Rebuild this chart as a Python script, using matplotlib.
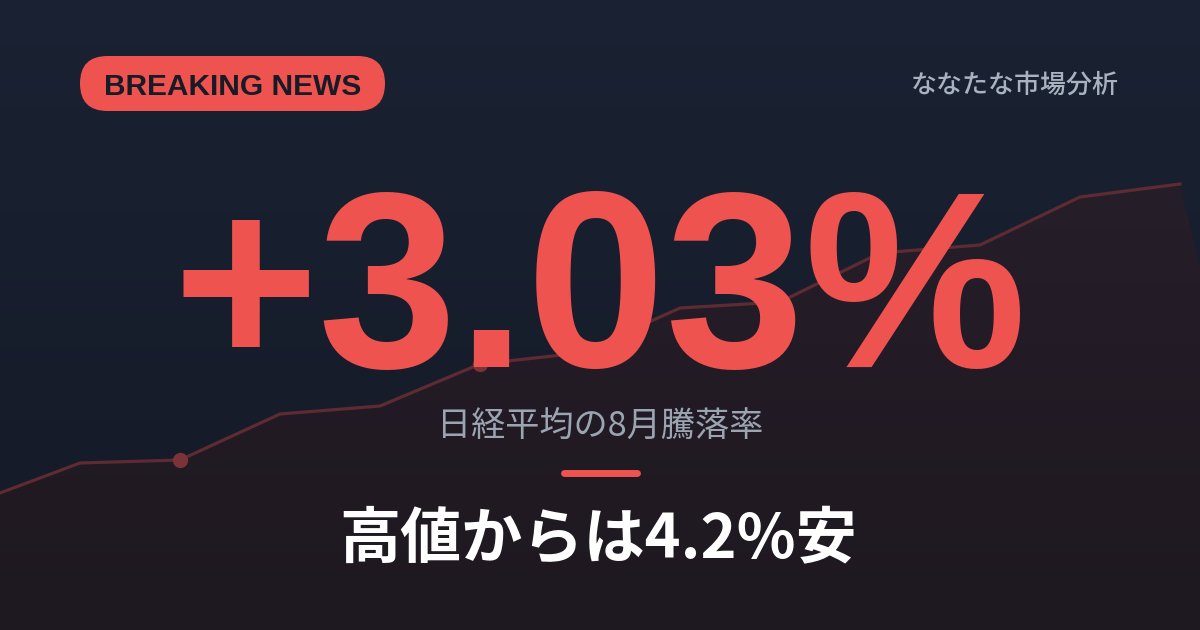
import numpy as np
import matplotlib.pyplot as plt
from matplotlib.patches import FancyBboxPatch, Polygon
from matplotlib.colors import LinearSegmentedColormap

# index path behind the headline (x position, height above bottom edge)
ar_x = [0, 80, 180, 280, 380, 480, 580, 680, 780, 880, 980, 1080, 1180]
ar_level = [137, 167, 170, 216, 224, 266, 277, 322, 328, 377, 385, 433, 446]
ar_marker_idx = [2, 5]

st_badge = 'BREAKING NEWS'
st_brand = 'ななたな市場分析'
st_headline = '+3.03%'
st_subtitle = '日経平均の8月騰落率'
st_bottom = '高値からは4.2%安'

ls_cjk = ['Noto Sans CJK JP', 'DejaVu Sans']
st_red = '#ef5350'

fig = plt.figure(figsize=(12, 6.3), dpi=100)

# Background gradient
ax_bg = fig.add_axes([0, 0, 1, 1])
ax_bg.set_xlim(0, 1200)
ax_bg.set_ylim(0, 630)
ax_bg.axis('off')
cmap_bg = LinearSegmentedColormap.from_list('bg', ['#141925', '#1a2233'])
ar_grad = np.linspace(0, 1, 256).reshape(-1, 1)
ax_bg.imshow(ar_grad, cmap=cmap_bg, aspect='auto', extent=[0, 1200, 0, 630],
             origin='lower', zorder=0)

# Area under the index path, gradient clipped to polygon
ar_poly = [(0, 0)] + list(zip(ar_x, ar_level)) + [(ar_x[-1] + ar_level[-1] / 4.15, 0)]
poly = Polygon(ar_poly, closed=True, facecolor='none', edgecolor='none')
ax_bg.add_patch(poly)
cmap_fill = LinearSegmentedColormap.from_list('fill', ['#1e1820', '#261e29'])
im_fill = ax_bg.imshow(ar_grad, cmap=cmap_fill, aspect='auto',
                       extent=[0, 1200, 0, 460], origin='lower', zorder=1)
im_fill.set_clip_path(poly)
ax_bg.set_xlim(0, 1200)
ax_bg.set_ylim(0, 630)

ax_bg.plot(ar_x, ar_level, color='#5e2b32', linewidth=2.3, zorder=2,
           solid_joinstyle='miter')
ax_bg.plot([ar_x[i] for i in ar_marker_idx], [ar_level[i] for i in ar_marker_idx],
           linestyle='none', marker='o', markersize=10, color='#7b3337', zorder=3)

# Foreground text layer, pixel coordinates from top
ax = fig.add_axes([0, 0, 1, 1])
ax.set_xlim(0, 1200)
ax.set_ylim(630, 0)
ax.axis('off')
ax.patch.set_alpha(0)

badge = FancyBboxPatch((80, 56), 305, 55, boxstyle='round,pad=0,rounding_size=27.5',
                       facecolor=st_red, edgecolor='none', zorder=5)
ax.add_patch(badge)
ax.text(232.5, 84, st_badge, fontsize=21.5, fontweight='bold', family='Liberation Sans',
        color='#161b26', ha='center', va='center_baseline', zorder=6)

ax.text(1119, 82, st_brand, fontsize=18.7, family=ls_cjk, color='#a9b3bf',
        ha='right', va='center_baseline', fontweight='medium', zorder=6)

ax.text(600, 367, st_headline, fontsize=180, fontweight='bold', family='Liberation Sans',
        color=st_red, ha='center', va='baseline', zorder=6)

ax.text(600, 423, st_subtitle, fontsize=24.6, family=ls_cjk, color='#9aa5b1',
        ha='center', va='center_baseline', zorder=6)

ax.plot([564, 637], [473, 473], color=st_red, linewidth=5, solid_capstyle='round', zorder=6)

ax.text(598, 533, st_bottom, fontsize=44, fontweight='bold', family=ls_cjk,
        color='white', ha='center', va='center_baseline', zorder=6)

fig.savefig('out.png', dpi=100)
